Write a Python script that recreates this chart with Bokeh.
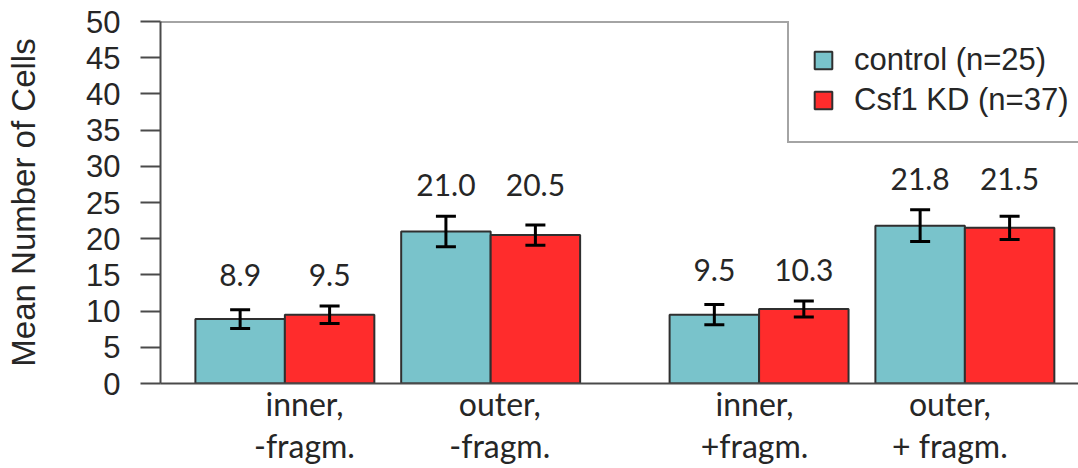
from bokeh.plotting import figure
from bokeh.models import (Range1d, FixedTicker, Whisker, TeeHead, ColumnDataSource,
                          Legend, LegendItem, Span)
from bokeh.core.properties import value
from bokeh.embed import file_html
from bokeh.resources import INLINE

# ---- data ---------------------------------------------------------------
regions = ["inner,", "outer,", "inner,", "outer,"]
fragments = ["-fragm.", "-fragm.", "+fragm.", "+ fragm."]
series = ["control (n=25)", "Csf1 KD (n=37)"]
control_mean = [8.9, 21.0, 9.5, 21.8]
control_sem = [1.3, 2.1, 1.4, 2.2]
kd_mean = [9.5, 20.5, 10.3, 21.5]
kd_sem = [1.2, 1.4, 1.1, 1.6]
y_ticks = [0, 5, 10, 15, 20, 25, 30, 35, 40, 45, 50]
y_title = "Mean Number of Cells"

# ---- style --------------------------------------------------------------
TEAL = "#79c3cb"
RED = "#ff2c2c"
EDGE = "#2f2f2f"
AXIS = "#4a4a4a"
INK = "#262626"
R_FONT = "Liberation Sans"
NOTE_FONT = "Lato"

# ---- layout (one bar = one x unit) ---------------------------------------
BAR_W = 1.0
FIRST_CENTER = 1.39
GROUP_STEP = 2.3
PAIR_GAP = 0.7
X_END = 10.26
Y_MAX = 50
centers = [FIRST_CENTER + i * GROUP_STEP + (PAIR_GAP if i >= 2 else 0.0)
           for i in range(len(regions))]
# captions sit on a slightly compressed spacing under the groups
caption_x = [round(0.29 + 0.949 * c, 3) for c in centers]

p = figure(width=1078, height=468, output_backend="svg", toolbar_location=None,
           x_range=Range1d(0, X_END), y_range=Range1d(0, Y_MAX),
           min_border_left=160, min_border_right=0,
           min_border_top=21, min_border_bottom=85)
p.outline_line_color = None
p.grid.visible = False
p.background_fill_color = "white"
p.border_fill_color = "white"

# x axis: baseline plus the two-line group captions
xax = p.xaxis[0]
xax.ticker = FixedTicker(ticks=caption_x)
xax.major_label_overrides = {x: f"{r}\n{f}" for x, r, f
                             in zip(caption_x, regions, fragments)}
xax.major_tick_out = 0
xax.major_tick_in = 0
xax.minor_tick_out = 0
xax.minor_tick_in = 0
xax.axis_line_color = AXIS
xax.axis_line_width = 2
xax.major_label_standoff = 0
xax.major_label_text_font = NOTE_FONT
xax.major_label_text_font_size = "32px"
xax.major_label_text_color = INK
xax.major_label_text_line_height = 1.08

# y axis
yax = p.yaxis[0]
yax.ticker = FixedTicker(ticks=y_ticks)
yax.major_tick_out = 20
yax.major_tick_in = 0
yax.minor_tick_out = 0
yax.minor_tick_in = 0
yax.axis_line_color = AXIS
yax.axis_line_width = 2
yax.major_tick_line_color = AXIS
yax.major_tick_line_width = 2
yax.major_label_text_font = R_FONT
yax.major_label_text_font_size = "31px"
yax.major_label_text_color = INK
yax.major_label_standoff = 20
yax.axis_label = y_title
yax.axis_label_text_font = R_FONT
yax.axis_label_text_font_size = "33px"
yax.axis_label_text_font_style = "normal"
yax.axis_label_text_color = INK
yax.axis_label_standoff = 41

# top frame line
p.add_layout(Span(location=Y_MAX, dimension="width", line_color=AXIS, line_width=2))

# bars
ctrl_src = ColumnDataSource(dict(
    x=[c - BAR_W / 2 for c in centers], top=control_mean,
    upper=[m + s for m, s in zip(control_mean, control_sem)],
    lower=[m - s for m, s in zip(control_mean, control_sem)]))
kd_src = ColumnDataSource(dict(
    x=[c + BAR_W / 2 for c in centers], top=kd_mean,
    upper=[m + s for m, s in zip(kd_mean, kd_sem)],
    lower=[m - s for m, s in zip(kd_mean, kd_sem)]))

r_ctrl = p.vbar(x="x", top="top", bottom=0, width=BAR_W, source=ctrl_src,
                fill_color=TEAL, line_color=EDGE, line_width=2)
r_kd = p.vbar(x="x", top="top", bottom=0, width=BAR_W, source=kd_src,
              fill_color=RED, line_color=EDGE, line_width=2)

# error bars (SEM), drawn over the bars
for src in (ctrl_src, kd_src):
    p.add_layout(Whisker(source=src, base="x", upper="upper", lower="lower",
                         level="annotation", line_color="black", line_width=3,
                         upper_head=TeeHead(size=20, line_color="black", line_width=3),
                         lower_head=TeeHead(size=20, line_color="black", line_width=3)))

# value labels, level with the higher error bar of each group
LABEL_GAP = 4.3
group_top = [max(cm + cs, km + ks) for cm, cs, km, ks
             in zip(control_mean, control_sem, kd_mean, kd_sem)]
val_src = ColumnDataSource(dict(
    x=list(ctrl_src.data["x"]) + list(kd_src.data["x"]),
    y=[t + LABEL_GAP for t in group_top] * 2,
    text=[f"{v:.1f}" for v in control_mean + kd_mean]))
p.text(x="x", y="y", text="text", source=val_src,
       text_font=value(NOTE_FONT), text_font_size="30px", text_color=INK,
       text_align="center", text_baseline="middle")

# legend
legend = Legend(items=[LegendItem(label=series[0], renderers=[r_ctrl]),
                       LegendItem(label=series[1], renderers=[r_kd])],
                location=(627, 240), orientation="vertical",
                label_text_font=R_FONT, label_text_font_size="31px",
                label_text_color=INK,
                glyph_width=22, glyph_height=22, label_standoff=20,
                padding=23, spacing=4, margin=0,
                border_line_color=AXIS, border_line_width=2,
                background_fill_color="white", background_fill_alpha=1.0)
p.add_layout(legend)

open("out.html", "w").write(file_html(p, INLINE))
